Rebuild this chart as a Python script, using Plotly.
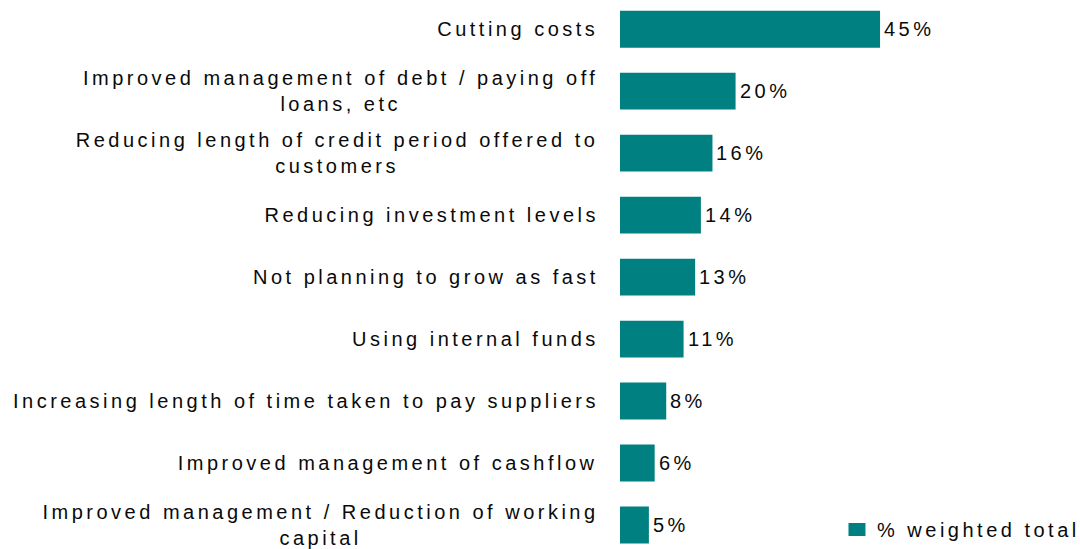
import plotly.graph_objects as go

# Survey responses: actions taken, share of weighted total (%)
categories = [
    "Cutting costs",
    "Improved management of debt / paying off<br>loans, etc",
    "Reducing length of credit period offered to<br>customers",
    "Reducing investment levels",
    "Not planning to grow as fast",
    "Using internal funds",
    "Increasing length of time taken to pay suppliers",
    "Improved management of cashflow",
    "Improved management / Reduction of working<br>capital",
]
values = [45, 20, 16, 14, 13, 11, 8, 6, 5]
series_name = "% weighted total"

BAR_COLOR = "#008080"
FONT_FAMILY = "Liberation Sans, Arial, Helvetica, sans-serif"
FONT_SIZE = 20
TEXT_COLOR = "#0a0a0a"
LETTER_SPACING = 3.5  # px, applied to chart texts after render

fig = go.Figure()
fig.add_trace(
    go.Bar(
        x=values,
        y=categories,
        orientation="h",
        name=series_name,
        marker=dict(color=BAR_COLOR, line=dict(width=0)),
        hoverinfo="skip",
        showlegend=True,
    )
)

label_font = dict(family=FONT_FAMILY, size=FONT_SIZE, color=TEXT_COLOR)
annotations = []
for cat, val in zip(categories, values):
    # category label, right-aligned before the bars, lines centred on each other
    longest = max(len(line) for line in cat.split("<br>"))
    annotations.append(
        dict(
            x=0, y=cat, xref="x", yref="y",
            text=cat,
            xanchor="right", yanchor="middle", align="center",
            xshift=-23 - (longest / 2 - 1) * LETTER_SPACING,
            showarrow=False, font=label_font,
        )
    )
    # value label just past the end of the bar
    annotations.append(
        dict(
            x=val, y=cat, xref="x", yref="y",
            text=f"{val}%",
            xanchor="left", yanchor="middle", align="left",
            xshift=2,
            showarrow=False, font=label_font,
        )
    )

fig.update_layout(
    width=1080,
    height=549,
    margin=dict(l=620, r=0, t=0, b=0),
    paper_bgcolor="white",
    plot_bgcolor="white",
    bargap=0.405,
    font=label_font,
    xaxis=dict(range=[0, 79.6], visible=False, fixedrange=True),
    yaxis=dict(type="category", range=[8.355, -0.471], visible=False, fixedrange=True),
    annotations=annotations,
    showlegend=True,
    legend=dict(
        x=0.4717, y=0.032, xanchor="left", yanchor="middle",
        bgcolor="rgba(0,0,0,0)", borderwidth=0,
        font=label_font,
    ),
)

# widen the texts with letter spacing, let the legend text run past its
# measured box, and use a slightly wider legend swatch
post_js = (
    "var gd = document.getElementById('{plot_id}');"
    "gd.querySelectorAll('text.annotation-text, text.legendtext').forEach(function(t){"
    "t.style.letterSpacing = '%spx';});"
    "gd.querySelectorAll('.legend [clip-path]').forEach(function(e){"
    "e.removeAttribute('clip-path');});"
    "gd.querySelectorAll('.legend .legendpoints path').forEach(function(p){"
    "p.setAttribute('d', 'M8.5,6.5H-8.5V-6.5H8.5Z');});" % LETTER_SPACING
)

fig.write_html("out.html", config={"displayModeBar": False}, post_script=post_js)
